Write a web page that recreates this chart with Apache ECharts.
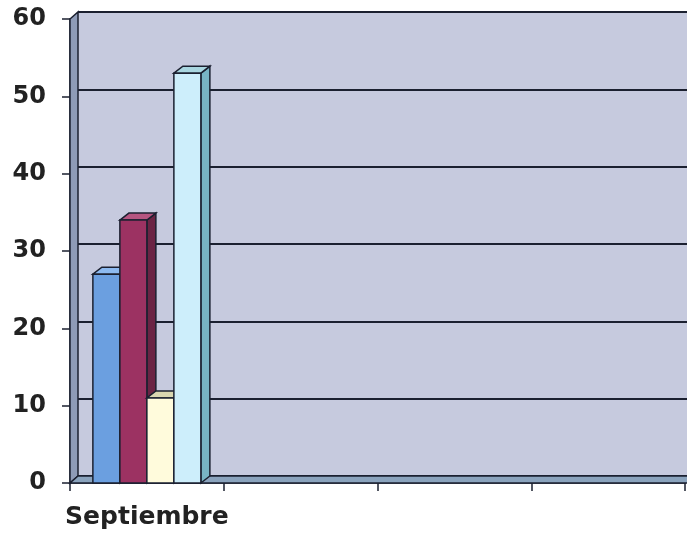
<!DOCTYPE html>
<html lang="es">
<head>
<meta charset="UTF-8">
<title>Septiembre</title>
<style>
  html, body { margin: 0; padding: 0; background: #fff; }
  #chart { width: 687px; height: 537px; }
</style>
</head>
<body>
<div id="chart"></div>
<script src="https://cdn.jsdelivr.net/npm/echarts@6/dist/echarts.min.js"></script>
<script>
// data
var categories = ['Septiembre', '', '', ''];
var serie1 = [27, null, null, null];   // azul
var serie2 = [34, null, null, null];   // granate
var serie3 = [11, null, null, null];   // crema
var serie4 = [53, null, null, null];   // celeste
var yTicks = [0, 10, 20, 30, 40, 50, 60];

// colours per series: front, top, side
var colors = [
  ['#6b9fe0', '#8dbaf0', '#3f6aa8'],
  ['#9c3262', '#b55580', '#6b2444'],
  ['#fffbdc', '#d9d6b0', '#c9c6a0'],
  ['#cdeefb', '#a9d6e0', '#78b4c4']
];

var chart = echarts.init(document.getElementById('chart'));
var BW = 27, DX = 9, DY = -7;

function makeSeries(values, s) {
  return {
    type: 'custom',
    xAxisIndex: 0,
    yAxisIndex: 0,
    clip: false,
    z: 5,
    data: values.map(function (v, i) { return [i, v]; }),
    encode: { x: 0, y: 1 },
    renderItem: function (params, api) {
      var v = api.value(1);
      if (v == null || isNaN(v)) return;
      var base = api.coord([api.value(0), 0]);
      var top = api.coord([api.value(0), v]);
      var x0 = base[0] - 2 * BW + s * BW;
      var yb = base[1], yt = top[1];
      var c = colors[s];
      var line = { stroke: '#1b2030', lineWidth: 1.5 };
      return {
        type: 'group',
        children: [
          { type: 'polygon', shape: { points: [[x0 + BW, yt], [x0 + BW + DX, yt + DY], [x0 + BW + DX, yb + DY], [x0 + BW, yb]] },
            style: Object.assign({ fill: c[2] }, line) },
          { type: 'polygon', shape: { points: [[x0, yt], [x0 + DX, yt + DY], [x0 + BW + DX, yt + DY], [x0 + BW, yt]] },
            style: Object.assign({ fill: c[1] }, line) },
          { type: 'rect', shape: { x: x0, y: yt, width: BW, height: yb - yt },
            style: Object.assign({ fill: c[0] }, line) }
        ]
      };
    }
  };
}

var labelFont = { fontFamily: 'DejaVu Sans, sans-serif', fontWeight: 'bold', color: '#222' };

chart.setOption({
  animation: false,
  backgroundColor: '#ffffff',
  grid: [
    { left: 70, right: 2, top: 19, bottom: 54, show: false },
    { left: 78, right: 0, top: 12, bottom: 61, show: true, backgroundColor: '#c6cade', borderWidth: 0 }
  ],
  graphic: [
    // left wall
    { type: 'polygon', z: 1, shape: { points: [[70, 19], [78, 12], [78, 476], [70, 483]] },
      style: { fill: '#8e9bb7', stroke: '#1b2030', lineWidth: 1.5 } },
    // floor
    { type: 'polygon', z: 1, shape: { points: [[70, 483], [78, 476], [690, 476], [690, 483]] },
      style: { fill: '#8aa3bd', stroke: '#1b2030', lineWidth: 1.5 } },
    // top edge of back wall
    { type: 'line', z: 1, shape: { x1: 78, y1: 12, x2: 690, y2: 12 }, style: { stroke: '#1b2030', lineWidth: 2 } }
  ],
  xAxis: [
    {
      type: 'category', gridIndex: 0, data: categories,
      axisLine: { show: true, lineStyle: { color: '#1b2030', width: 1.5 } },
      axisTick: { show: true, interval: 0, length: 8, lineStyle: { color: '#1b2030', width: 1.5 } },
      axisLabel: Object.assign({ interval: 0, fontSize: 25, margin: 22 }, labelFont),
      splitLine: { show: false }
    },
    {
      type: 'category', gridIndex: 1, data: categories,
      axisLine: { show: false }, axisTick: { show: false }, axisLabel: { show: false }
    }
  ],
  yAxis: [
    {
      type: 'value', gridIndex: 0, min: yTicks[0], max: yTicks[yTicks.length - 1], interval: 10,
      axisLine: { show: true, lineStyle: { color: '#1b2030', width: 1.5 } },
      axisTick: { show: true, length: 8, lineStyle: { color: '#1b2030', width: 1.5 } },
      axisLabel: Object.assign({ fontSize: 24, margin: 24 }, labelFont),
      splitLine: { show: false }
    },
    {
      type: 'value', gridIndex: 1, min: yTicks[0], max: yTicks[yTicks.length - 1], interval: 10,
      axisLine: { show: false }, axisTick: { show: false }, axisLabel: { show: false },
      splitLine: { show: true, lineStyle: { color: '#1b2030', width: 2 } }
    }
  ],
  series: [
    makeSeries(serie1, 0),
    makeSeries(serie2, 1),
    makeSeries(serie3, 2),
    makeSeries(serie4, 3)
  ]
});
</script>
</body>
</html>
